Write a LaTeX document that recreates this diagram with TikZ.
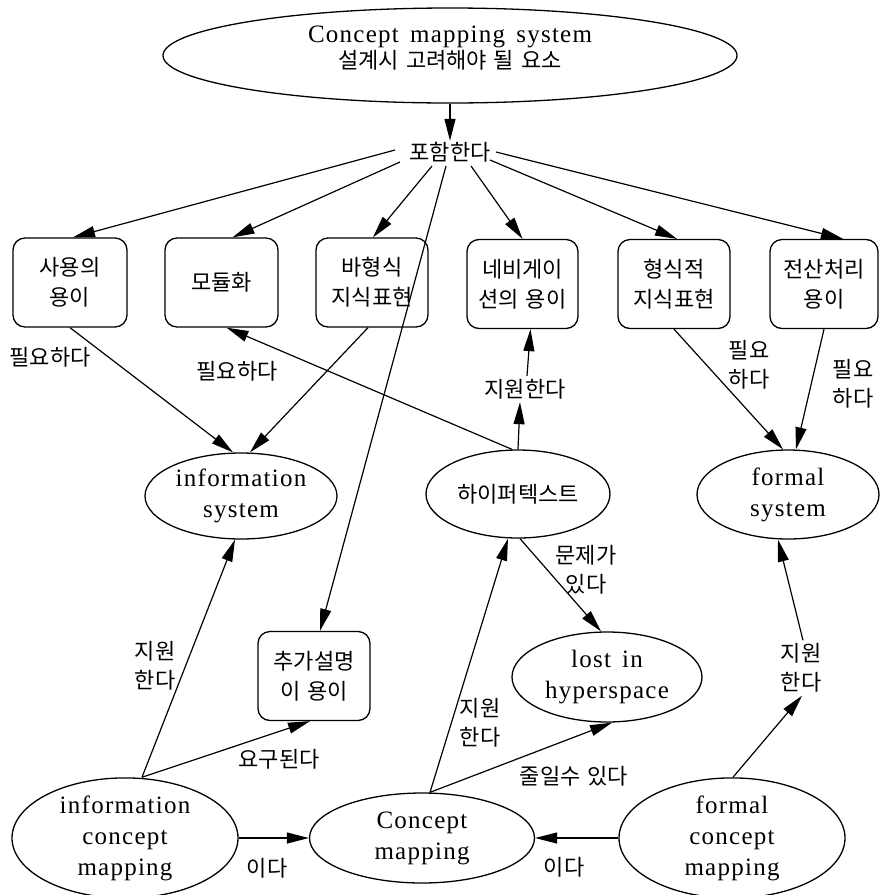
\documentclass[tikz,border=0pt]{standalone}
\usepackage{fontspec}
\usetikzlibrary{shapes.geometric,arrows.meta,calc}
% Latin and Hangul faces
\newfontfamily\romface{Liberation Serif}[LetterSpace=5,WordSpace=1.5]
\newfontfamily\hanface{Noto Sans CJK KR}[WordSpace=1.4]
\newcommand\enrm{\romface\fontsize{25}{31}\selectfont}
\newcommand\korm{\hanface\fontsize{22}{29}\selectfont}
\begin{document}
\begin{tikzpicture}[x=1pt,y=-1pt,
  oval/.style={ellipse, draw, line width=1.3pt, align=center, font=\enrm, inner sep=0pt},
  concept/.style={rectangle, rounded corners=12pt, draw, line width=1.3pt, align=center,
    font=\korm, minimum width=112pt, minimum height=89pt, inner sep=0pt},
  link/.style={align=center, font=\korm, inner sep=3pt},
  arr/.style={line width=1.2pt, -{Triangle[length=22pt,width=11pt]}}]
\fill[white] (0,0) rectangle (879,895);
\useasboundingbox (0,0) rectangle (879,895);

% root concept
\node[oval, minimum width=574pt, minimum height=95pt, text depth=17pt] (top) at (450,55.5)
  {Concept mapping system\\[-5pt]{\korm 설계시 고려해야 될 요소}};
\node[link, inner sep=1pt] (inc) at (450,152) {포함한다};

% design factors
\node[concept, minimum width=114pt] (b1) at (70,282.5) {사용의\\[1pt]용이};
\node[concept, minimum width=113pt] (b2) at (221.5,282.5) {모듈화};
\node[concept] (b3) at (372,282.5) {바형식\\[1pt]지식표현};
\node[concept, minimum width=111pt] (b4) at (522.5,284) {네비게이\\[1pt]션의 용이};
\node[concept] (b5) at (674,284) {형식적\\[1pt]지식표현};
\node[concept, minimum width=108pt] (b6) at (824,284) {전산처리\\[1pt]용이};
\node[concept] (extra) at (314,676) {추가설명\\[1pt]이 용이};

% systems
\node[oval, minimum width=192pt, minimum height=86pt] (infosys) at (241,496) {information\\system};
\node[oval, font=\korm, minimum width=184pt, minimum height=88pt] (hyper) at (518,494) {하이퍼텍스트};
\node[oval, minimum width=182pt, minimum height=89pt] (formalsys) at (788,494.5) {formal\\system};
\node[oval, minimum width=190pt, minimum height=90pt] (lost) at (607,677) {lost in\\hyperspace};

% mapping kinds
\node[oval, minimum width=226pt, minimum height=111pt] (icm) at (125,838) {information\\concept\\mapping};
\node[oval, minimum width=225pt, minimum height=90pt] (cm) at (422,838) {Concept\\mapping};
\node[oval, minimum width=226pt, minimum height=112pt] (fcm) at (732,838) {formal\\concept\\mapping};

% linking phrases
\node[link] (n1) at (50,357) {필요하다};
\node[link] (n2) at (237,371) {필요하다};
\node[link] (n3) at (525,389) {지원한다};
\node[link] (n4) at (749,365) {필요\\하다};
\node[link] (n5) at (853,384) {필요\\하다};
\node[link] (n6) at (586,570) {문제가\\있다};
\node[link] (n7) at (155,666) {지원\\한다};
\node[link] (n8) at (279,759) {요구된다};
\node[link] (n9) at (480,723) {지원\\한다};
\node[link] (n10) at (574,776) {줄일수 있다};
\node[link] (n11) at (267,868) {이다};
\node[link] (n12) at (564,867) {이다};
\node[link] (n13) at (801,668) {지원\\한다};

% root to its factors
\draw[arr] (top.south) -- (inc.north);
\draw[arr] ($(inc)+(-55,-2)$) -- ($(b1.north)+(3,0)$);
\draw[arr] ($(inc)+(-50,10)$) -- ($(b2.north)+(11,0)$);
\draw[arr] ($(inc)+(-18,14)$) -- ($(b3.north)+(1,0)$);
\draw[arr] ($(inc)+(-4,14)$) -- ($(extra.north)+(6,0)$);
\draw[arr] ($(inc)+(21,14)$) -- (b4.north);
\draw[arr] ($(inc)+(40,8)$) -- ($(b5.north)+(3,0)$);
\draw[arr] ($(inc)+(46,0)$) -- ($(b6.north)+(19,0)$);

% factors needed by the systems
\draw[arr] (b1.south) -- ($(infosys.north)+(-8,0)$);
\draw[arr] ($(b3.south)+(-4,0)$) -- ($(infosys.north)+(9,0)$);
\draw[arr] (b5.south) -- ($(formalsys.north)+(-5,0)$);
\draw[arr] (b6.south) -- ($(formalsys.north)+(8,0)$);

% hypertext relations
\draw[arr] ($(hyper.north)+(-6,0)$) -- ($(b2.south)+(5,0)$);
\draw[arr] (hyper.north) -- ($(n3.south)+(-5,0)$);
\draw[arr] ($(n3.north)+(2,0)$) -- ($(b4.south)+(8,0)$);
\draw[arr] ($(hyper.south)+(2,0)$) -- ($(lost.north)+(-6,0)$);

% concept mapping relations
\draw[arr] ($(icm.north)+(17,0)$) -- ($(infosys.south)+(-6,0)$);
\draw[arr] ($(icm.north)+(17,0)$) -- ($(extra.south)+(-4,0)$);
\draw[arr] (icm.east) -- (cm.west);
\draw[arr] ($(cm.north)+(8,0)$) -- ($(hyper.south)+(-10,0)$);
\draw[arr] ($(cm.north)+(8,0)$) -- ($(lost.south)+(5,0)$);
\draw[arr] (fcm.west) -- (cm.east);
\draw[arr] ($(fcm.north)+(1,0)$) -- ($(n13.south)+(1,0)$);
\draw[arr] ($(n13.north)+(2,0)$) -- ($(formalsys.south)+(-10,0)$);
\end{tikzpicture}
\end{document}
